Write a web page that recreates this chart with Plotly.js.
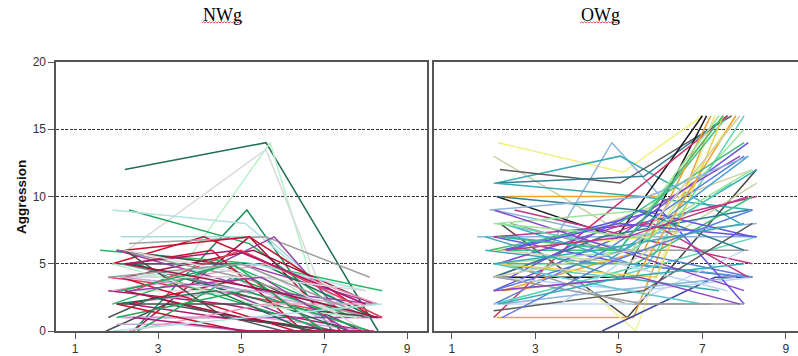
<!DOCTYPE html>
<html>
<head>
<meta charset="utf-8">
<script src="https://cdn.plot.ly/plotly-3.0.1.min.js"></script>
<style>html,body{margin:0;padding:0;background:#fff}#chart{width:798px;height:356px}</style>
</head>
<body>
<div id="chart"></div>
<script>
// ---- Panel titles and ticks ----
const panelTitles = ['NWg', 'OWg'];
const yTitle = 'Aggression';
const xTickVals = [1, 3, 5, 7, 9];
const yTickVals = [0, 5, 10, 15, 20];

// ---- NWg panel: one row per subject (x positions, aggression values, colour) ----
const nwX = [
 [2.2,5.6,8.3],[3.6,5.7,6.7],[2.25,5.6,7.1],[2.3,5.2,7.6],[2.4,5.14,7.2],[1.9,5.1,7.4],
 [2.1,5.6,7.8],[1.9,4.1,8.0],[2.4,5.2,7.4],[2.3,5.6,8.1],[1.6,5.3,8.4],[3.8,5.8,7.5],
 [1.75,3.2,6.8],[1.8,2.9,6.0],[2.2,5.2,8.2],[2.0,4.5,7.9],[2.1,5.0,8.3],[1.9,5.5,8.2],
 [2.2,4.8,7.6],[1.8,4.4,7.8],[2.0,3.8,7.0],[1.8,4.6,8.0],[2.0,4.9,8.3],[2.2,5.0,8.4],
 [2.1,5.5,8.0],[2.3,5.2,7.0],[2.5,4.0,7.2],[2.2,5.3,8.2],[1.9,5.6,8.3],[2.4,5.8,7.6],
 [2.0,5.0,8.0],[2.2,5.4,7.9],[2.1,4.2,6.3],[2.3,4.5,7.4],[2.0,3.5,5.0],[2.5,4.8,7.5],
 [2.1,5.1,8.1],[2.4,5.3,8.0],[1.9,4.7,7.7],[2.2,5.0,7.2],[2.0,5.5,8.2],[2.3,4.3,6.5],
 [2.1,5.2,8.3],[2.0,5.8,8.0],[2.2,4.6,7.3],[2.4,5.0,8.4],[1.9,5.3,7.8],[2.0,5.1,8.1],
 [2.3,5.6,8.3],[2.2,4.9,8.0],[2.1,5.3,7.5],[2.0,5.0,7.9],[2.2,5.4,8.0],[2.1,4.8,7.0],
 [2.4,5.2,8.2],[1.8,5.0,8.1],[2.3,5.5,7.6],[2.0,4.4,6.6],[2.2,5.7,8.3],[1.9,5.2,8.4]
];
const nwY = [
 [12,14,0],[4.8,14,3.8],[6,13.5,1.8],[9,6.5,1],[0,9,0],[9,8,2],
 [7,7,1],[5,7,2],[0,7,0],[6.5,7,4],[6,5,3],[4,7,1],
 [0,2,0],[1,2.5,0],[6,7,1],[6,5,0],[5,5,2],[5,5,1],
 [4,4,0],[4,3,1],[3,4,0],[3,2,0],[2,3,1],[1,1,1],
 [1,1,0],[2,4,0],[5,3,0],[4,6,2],[3,5,2],[5,2,0],
 [6,4,1],[3,3,1],[4,2,0],[2,1,0],[0.5,0.5,0],[0,4,1],
 [5,3,0],[4,5,3],[2,5,1],[3,1,0],[6,3,2],[5,6,0],
 [2,2,1],[4,4,0],[6,1,0],[3,6,1],[5,2,1],[1,3,0],
 [0,2,2],[5,6,2],[4,3,2],[2,0,0],[6,4,3],[3,5,0],
 [1,0,0],[4,5,1],[3,4,0],[2,3,0],[5,3,1],[0,1,2]
];
const nwColors = [
 '#1f6e52','#b8f2c8','#d9d9d9','#1ea85a','#17905a','#b2e2e4',
 '#a8dcdc','#c8102e','#a3123f','#a0a0a0','#2bb866','#9a3fa6',
 '#4a4a4a','#555555','#c8102e','#4a4a4a','#9a3fa6','#1f6e52',
 '#c9a6dc','#e0405a','#9a3fa6','#b01870','#c9a6dc','#9a3fa6',
 '#c9a6dc','#c8102e','#1ea85a','#a3123f','#e8a0c0','#1f6e52',
 '#9c9c9c','#d9d9d9','#c8102e','#b01870','#c9a6dc','#1ea85a',
 '#6d8f88','#b2e2e4','#2bb866','#a3123f','#9a3fa6','#c8102e',
 '#4a4a4a','#d9d9d9','#4a4a4a','#e0405a','#b8f2c8','#1ea85a',
 '#e8a0c0','#b01870','#c9a6dc','#c8102e','#d9d9d9','#1ea85a',
 '#b01870','#9c9c9c','#9a3fa6','#1f6e52','#a3123f','#b2e2e4'
];

// ---- OWg panel ----
const owX = [
 [2.1,5.1,7.0],[2.0,4.7,8.2],[3.3,4.83,6.0],[2.07,5.03,7.9],[2.15,5.03,7.7],[2.07,5.6,7.6],
 [2.3,6.0,7.5],[2.07,4.95,7.0],[2.07,5.1,7.1],[2.15,5.2,8.3],[2.07,5.35,7.3],[2.3,5.2,7.2],
 [4.3,5.4,7.3],[4.6,7.3,8.2],[2.0,5.5,8.2],[2.0,5.0,8.3],[2.5,5.3,8.2],[2.4,4.8,8.1],
 [1.6,5.0,8.3],[2.0,5.2,8.0],[2.0,5.0,7.6],[1.8,4.6,8.3],[2.0,5.5,8.3],[2.0,5.0,8.1],
 [2.0,4.0,7.6],[2.1,5.4,8.0],[2.0,5.8,7.8],[2.2,5.6,7.2],[2.0,5.7,8.0],[2.1,5.2,7.9],
 [2.0,4.7,8.0],[2.2,5.3,8.1],[2.0,4.9,8.3],[2.1,5.5,8.2],[2.0,5.3,8.0],[2.0,5.1,8.2],
 [2.2,6.0,8.0],[2.0,5.8,8.1],[1.8,5.0,7.4],[2.3,5.4,8.2],[2.1,5.7,7.4],[2.2,5.2,8.3],
 [2.0,4.6,8.1],[2.1,5.3,7.7],[2.0,5.0,8.0],[2.4,5.5,8.2],[2.0,5.9,7.5],[2.2,5.4,7.8],
 [1.9,5.0,8.0],[2.3,5.1,8.1],[2.0,5.6,8.2],[3.6,5.0,7.6],[2.1,5.4,8.0],[2.0,5.2,7.0],
 [2.2,4.8,7.8],[2.0,5.5,8.2],[2.1,5.6,8.0],[2.3,5.0,8.3],[2.0,4.5,8.0],[1.9,5.7,8.1],
 [2.1,5.0,7.5],[2.0,5.3,7.9],[2.2,4.7,8.2],[2.0,5.5,7.9],[2.3,5.2,8.1],[2.1,5.1,8.0]
];
const owY = [
 [14,11.8,16],[13,8,12],[6,14,10],[11,13,8],[12,11,16],[11,11.5,16],
 [10,10,16],[10,7,16],[4,4,16],[8,1,12],[1,1,16],[5,2,2],
 [3,0,16],[0,4,4],[11,10,9],[9,7,8],[9,7,5],[8,6,6],
 [7,7,7],[7,5,4],[6,6,16],[6,5,12],[4,8,10],[3,7,14],
 [1,7,16],[5,6,15],[6,7,16],[3,6,16],[2,5,16],[5,8,13],
 [2,6,13],[8,5,4],[5,4,7],[4,3,4],[2,2,6],[3,6,4],
 [6,9,2],[7,8,4],[7,4,3],[5,5,10],[8,9,16],[6,5,11],
 [4,7,9],[8,6,11],[9,6,3],[4,9,7],[5,4,16],[3,4,16],
 [6,8,14],[7,6,13],[1.5,3,8],[2,5,3],[10,9,6],[5,3,2],
 [2,3,4],[8,7,12],[4,2,2],[6,8,7],[5,6,8],[9,10,13],
 [7,6,16],[4,6,16],[1,5,9],[3,4,2],[6,7,10],[2,4,5]
];
const owColors = [
 '#f2f07a','#cfcfa6','#8ab4dc','#35abb5','#5a5a5a','#2f7f95',
 '#f3a030','#1a1a1a','#1a1a1a','#444444','#f3a030','#9a9a9a',
 '#eef5a0','#3a4aa0','#35abb5','#8ab4dc','#c23584','#9a9a9a',
 '#8ab4dc','#6653e6','#3fbf7f','#35abb5','#c23584','#6653e6',
 '#d0306a','#9be69a','#f2f07a','#f3a030','#5fd3b5','#8a45c8',
 '#5a7fdc','#4aa0d0','#5fd3b5','#b8d4f2','#c8d8f4','#5a7fdc',
 '#6653e6','#c23584','#3aaaaa','#3fbf7f','#9be69a','#cfcfa6',
 '#2f7f95','#5fd3b5','#8a45c8','#6653e6','#e8d050','#f3a030',
 '#3fbf7f','#4aa0d0','#5a5a5a','#b8d4f2','#2f7f95','#5cc8c8',
 '#8ab4dc','#9be69a','#9a9a9a','#6653e6','#35abb5','#8ab4dc',
 '#3fbf7f','#cfcfa6','#5a7fdc','#8a45c8','#c23584','#35abb5'
];

const traces = [];
function addPanel(xs, ys, cols, xa, ya) {
  for (let i = 0; i < xs.length; i++) {
    traces.push({type:'scatter', mode:'lines', x: xs[i], y: ys[i], xaxis: xa, yaxis: ya,
      line:{color: cols[i], width: 1.5}, hoverinfo:'skip', showlegend:false});
  }
}
addPanel(nwX, nwY, nwColors, 'x', 'y');
addPanel(owX, owY, owColors, 'x2', 'y2');

const W = 798, H = 356;
const px = v => v / W, py = v => 1 - v / H;
const tickFont = {family:'Liberation Sans, Arial, sans-serif', size:12, color:'#333'};
const axBase = {showgrid:false, zeroline:false, showline:true, linecolor:'#555', linewidth:1.6,
  ticks:'outside', ticklen:6, tickcolor:'#555', tickfont:tickFont, fixedrange:true};
const yBase = Object.assign({}, axBase, {range:[0,20], tickvals:yTickVals,
  showgrid:true, gridcolor:'#333', griddash:'3px,1.5px', gridwidth:1});

const layout = {
  width: W, height: H,
  margin: {l:0, r:0, t:0, b:0},
  paper_bgcolor:'#fff', plot_bgcolor:'#fff',
  showlegend:false, hovermode:false,
  xaxis: Object.assign({}, axBase, {domain:[px(56), px(427)], range:[0.54, 9.48], tickvals:xTickVals, mirror:true, anchor:'y'}),
  yaxis: Object.assign({}, yBase, {domain:[py(331), py(62)], mirror:true, anchor:'x'}),
  xaxis2: Object.assign({}, axBase, {domain:[px(434), 1], range:[0.57, 9.29], tickvals:xTickVals, mirror:true, anchor:'y2'}),
  yaxis2: Object.assign({}, yBase, {domain:[py(331), py(62)], anchor:'x2', showticklabels:false, ticks:''}),
  annotations: [
    {text: panelTitles[0], xref:'paper', yref:'paper', x:px(222.5), y:py(15), showarrow:false,
     font:{family:'Liberation Serif, Times New Roman, serif', size:18, color:'#000'}, xanchor:'center', yanchor:'middle'},
    {text: panelTitles[1], xref:'paper', yref:'paper', x:px(600), y:py(15), showarrow:false,
     font:{family:'Liberation Serif, Times New Roman, serif', size:18, color:'#000'}, xanchor:'center', yanchor:'middle'},
    {text: yTitle, xref:'paper', yref:'paper', x:px(21), y:py(197), showarrow:false, textangle:-90,
     font:{family:'Liberation Sans, Arial, sans-serif', size:13.5, color:'#111', weight:'bold'}, xanchor:'center', yanchor:'middle'}
  ],
  shapes: []
};
// red spell-check squiggles under the titles
function squigglePath(x0, x1, y) {
  let d = '', up = false;
  for (let x = x0; x <= x1; x += 1.5) {
    const yy = up ? y - 1.3 : y;
    d += (d ? ' L' : 'M') + px(x).toFixed(5) + ',' + py(yy).toFixed(5);
    up = !up;
  }
  return {type:'path', xref:'paper', yref:'paper', path:d, line:{color:'#e03030', width:0.8}};
}
layout.shapes.push(squigglePath(202, 243, 23));
layout.shapes.push(squigglePath(580, 619, 23));

Plotly.newPlot('chart', traces, layout, {staticPlot:true, displayModeBar:false});
</script>
</body>
</html>
